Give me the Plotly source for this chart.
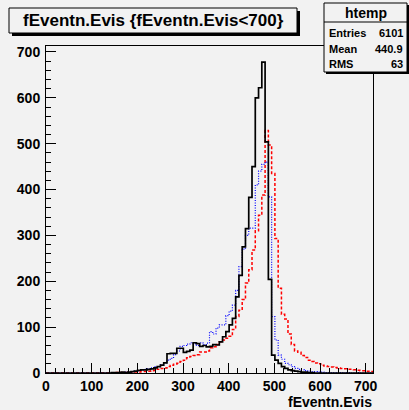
import plotly.graph_objects as go

# ---------------- data ----------------
x_min, x_max, n_bins = 0.0, 716.0, 100

black = [0]*20 + [1, 1, 1, 2, 1, 2, 3, 4, 6, 7,
        7, 8, 9, 11, 14, 17, 22, 42, 43, 43,
        54, 54, 45, 47, 50, 66, 64, 58, 60, 57,
        58, 62, 61, 68, 79, 90, 105, 119, 166, 213,
        275, 315, 383, 450, 600, 622, 678, 504, 204, 39,
        28, 21, 14, 10, 7, 5, 4, 3, 2, 2,
        1, 1] + [0]*18

blue = [0]*22 + [1, 1, 2, 2, 3, 4, 5, 7,
        8, 9, 11, 14, 14, 18, 22, 28, 32, 40,
        48, 58, 60, 63, 66, 64, 60, 66, 62, 65,
        90, 85, 98, 105, 105, 125, 135, 148, 180, 232,
        270, 300, 316, 316, 410, 440, 455, 460, 384, 123,
        72, 39, 30, 21, 18, 14, 10, 8, 7, 5,
        4, 3, 3, 2, 2, 1, 1, 1, 1, 0,
        1, 0, 1, 0, 0, 1, 0, 0, 0, 0]

red = [0]*20 + [0, 1, 0, 1, 1, 1, 1, 2, 2, 3,
        3, 4, 5, 6, 8, 10, 11, 14, 17, 19,
        21, 25, 28, 33, 36, 38, 40, 46, 46, 48,
        55, 57, 62, 68, 72, 76, 80, 95, 123, 137,
        160, 196, 225, 268, 310, 344, 388, 529, 497, 435,
        293, 185, 128, 118, 85, 62, 48, 45, 38, 34,
        28, 25, 22, 20, 17, 15, 14, 13, 12, 11,
        10, 9, 8, 8, 7, 6, 5, 5, 4, 3]

title_text = "fEventn.Evis {fEventn.Evis<700}"
stats_name = "htemp"
stats_rows = [("Entries", "6101"), ("Mean", "440.9"), ("RMS", "63")]
x_title = "fEventn.Evis"

# ---------------- figure ----------------
bw = (x_max - x_min) / n_bins
edges = [x_min + i * bw for i in range(n_bins + 1)]

W, H = 409, 410
L, R, T, B = 46, 373, 46, 373   # plot frame in pixels
pw, ph = R - L, B - T

def px(x):
    return (x - L) / pw

def py(y):
    return (B - y) / ph

BG = "#f2f2f2"
FONT = "Liberation Sans"

fig = go.Figure()

def add_hist(vals, color, width, dash):
    fig.add_trace(go.Scatter(
        x=edges, y=list(vals) + [vals[-1]], mode="lines",
        line=dict(color=color, width=width, dash=dash, shape="hv"),
        hoverinfo="skip", showlegend=False))

add_hist(red, "#ff0000", 1.5, "3px,2px")
add_hist(blue, "#0000ff", 1.2, "1px,1.5px")
add_hist(black, "#000000", 1.7, "solid")

axis_common = dict(
    showgrid=False, zeroline=False, showline=True, linecolor="black",
    linewidth=1, mirror=True, ticks="inside", ticklen=10, tickwidth=1,
    tickcolor="black", dtick=100, tick0=0,
    minor=dict(ticks="inside", ticklen=5, dtick=20, tickcolor="black", tickwidth=1),
    tickfont=dict(family=FONT, size=14, color="black", weight="bold"),
)

fig.update_xaxes(range=[x_min, x_max], **axis_common)
fig.update_yaxes(range=[0, 713], ticklabelstandoff=2, **axis_common)

shapes = []
# title box with shadow
shapes.append(dict(type="rect", xref="paper", yref="paper",
                   x0=px(12), x1=px(300), y0=py(36), y1=py(11),
                   fillcolor="black", line=dict(width=0)))
shapes.append(dict(type="rect", xref="paper", yref="paper",
                   x0=px(9), x1=px(297), y0=py(33), y1=py(8),
                   fillcolor=BG, line=dict(color="black", width=1)))
# stats box with shadow
shapes.append(dict(type="rect", xref="paper", yref="paper",
                   x0=px(326), x1=px(411), y0=py(74), y1=py(5),
                   fillcolor="black", line=dict(width=0)))
shapes.append(dict(type="rect", xref="paper", yref="paper",
                   x0=px(324), x1=px(407), y0=py(72), y1=py(3),
                   fillcolor=BG, line=dict(color="black", width=1)))
shapes.append(dict(type="line", xref="paper", yref="paper",
                   x0=px(324), x1=px(407), y0=py(22), y1=py(22),
                   line=dict(color="black", width=1)))

ann = []
ann.append(dict(text=title_text, xref="paper", yref="paper", x=px(153), y=py(20.5),
                showarrow=False, xanchor="center", yanchor="middle",
                font=dict(family=FONT, size=17, color="black", weight="bold")))
ann.append(dict(text=stats_name, xref="paper", yref="paper", x=px(365.5), y=py(13),
                showarrow=False, xanchor="center", yanchor="middle",
                font=dict(family=FONT, size=14, color="black", weight="bold")))
row_y = [33, 48.5, 64.5]
for (lab, val), yy in zip(stats_rows, row_y):
    ann.append(dict(text=lab, xref="paper", yref="paper", x=px(327), y=py(yy),
                    showarrow=False, xanchor="left", yanchor="middle",
                    font=dict(family=FONT, size=11, color="black", weight="bold")))
    ann.append(dict(text=val, xref="paper", yref="paper", x=px(405), y=py(yy),
                    showarrow=False, xanchor="right", yanchor="middle",
                    font=dict(family=FONT, size=11, color="black", weight="bold")))
ann.append(dict(text=x_title, xref="paper", yref="paper", x=px(374), y=py(401.5),
                showarrow=False, xanchor="right", yanchor="middle",
                font=dict(family=FONT, size=14, color="black", weight="bold")))

fig.update_layout(
    width=W, height=H, autosize=False,
    margin=dict(l=L, r=W - R, t=T, b=H - B, pad=0),
    paper_bgcolor=BG, plot_bgcolor=BG,
    shapes=shapes, annotations=ann, showlegend=False,
)

fig.write_html("out.html", config={"displayModeBar": False})
